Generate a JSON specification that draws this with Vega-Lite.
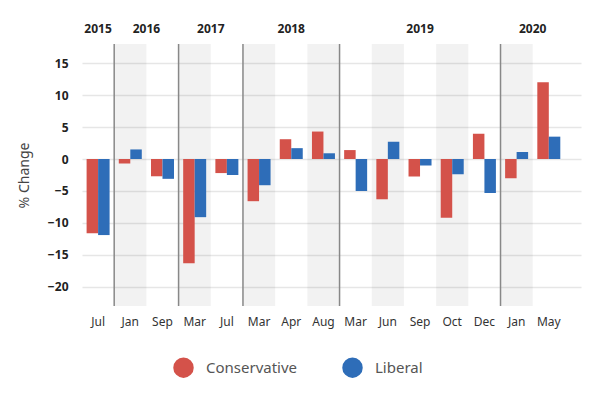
{
  "$schema": "https://vega.github.io/schema/vega-lite/v6.json",
  "width": 499,
  "height": 262,
  "autosize": "none",
  "padding": {"left": 82, "top": 44, "right": 10, "bottom": 94},
  "config": {
    "view": {"stroke": null},
    "font": "Noto Sans",
    "background": "#ffffff",
    "axisY": {
      "tickCount": 9,
      "labelFontSize": 12,
      "labelFontWeight": "bold",
      "labelColor": "#222222",
      "labelPadding": 14,
      "ticks": false,
      "domain": false,
      "grid": true,
      "gridColor": "#e6e6e6",
      "gridWidth": 1.5
    }
  },
  "datasets": {
    "changes": [
      {"month": "Jul 2015", "party": "Conservative", "change": -11.6},
      {"month": "Jul 2015", "party": "Liberal", "change": -11.9},
      {"month": "Jan 2016", "party": "Conservative", "change": -0.7},
      {"month": "Jan 2016", "party": "Liberal", "change": 1.5},
      {"month": "Sep 2016", "party": "Conservative", "change": -2.7},
      {"month": "Sep 2016", "party": "Liberal", "change": -3.1},
      {"month": "Mar 2017", "party": "Conservative", "change": -16.3},
      {"month": "Mar 2017", "party": "Liberal", "change": -9.1},
      {"month": "Jul 2017", "party": "Conservative", "change": -2.2},
      {"month": "Jul 2017", "party": "Liberal", "change": -2.5},
      {"month": "Mar 2018", "party": "Conservative", "change": -6.6},
      {"month": "Mar 2018", "party": "Liberal", "change": -4.1},
      {"month": "Apr 2018", "party": "Conservative", "change": 3.1},
      {"month": "Apr 2018", "party": "Liberal", "change": 1.7},
      {"month": "Aug 2018", "party": "Conservative", "change": 4.3},
      {"month": "Aug 2018", "party": "Liberal", "change": 0.9},
      {"month": "Mar 2019", "party": "Conservative", "change": 1.4},
      {"month": "Mar 2019", "party": "Liberal", "change": -5.0},
      {"month": "Jun 2019", "party": "Conservative", "change": -6.3},
      {"month": "Jun 2019", "party": "Liberal", "change": 2.7},
      {"month": "Sep 2019", "party": "Conservative", "change": -2.75},
      {"month": "Sep 2019", "party": "Liberal", "change": -1.0},
      {"month": "Oct 2019", "party": "Conservative", "change": -9.2},
      {"month": "Oct 2019", "party": "Liberal", "change": -2.4},
      {"month": "Dec 2019", "party": "Conservative", "change": 3.95},
      {"month": "Dec 2019", "party": "Liberal", "change": -5.3},
      {"month": "Jan 2020", "party": "Conservative", "change": -3.0},
      {"month": "Jan 2020", "party": "Liberal", "change": 1.1},
      {"month": "May 2020", "party": "Conservative", "change": 12.0},
      {"month": "May 2020", "party": "Liberal", "change": 3.5}
    ],
    "shaded": [
      {"month": "Jan 2016"},
      {"month": "Mar 2017"},
      {"month": "Mar 2018"},
      {"month": "Aug 2018"},
      {"month": "Jun 2019"},
      {"month": "Oct 2019"},
      {"month": "Jan 2020"}
    ],
    "yearStarts": [
      {"month": "Jan 2016"},
      {"month": "Mar 2017"},
      {"month": "Mar 2018"},
      {"month": "Mar 2019"},
      {"month": "Jan 2020"}
    ],
    "years": [
      {"year": "2015", "month": "Jul 2015", "anchor": "center"},
      {"year": "2016", "month": "Sep 2016", "anchor": "edge"},
      {"year": "2017", "month": "Jul 2017", "anchor": "edge"},
      {"year": "2018", "month": "Apr 2018", "anchor": "center"},
      {"year": "2019", "month": "Sep 2019", "anchor": "center"},
      {"year": "2020", "month": "May 2020", "anchor": "edge"}
    ]
  },
  "layer": [
    {
      "data": {"name": "shaded"},
      "mark": {"type": "rect", "color": "#000000", "opacity": 0.05},
      "encoding": {
        "x": {
          "field": "month",
          "type": "nominal",
          "title": null,
          "scale": {
            "domain": ["Jul 2015", "Jan 2016", "Sep 2016", "Mar 2017", "Jul 2017", "Mar 2018", "Apr 2018", "Aug 2018", "Mar 2019", "Jun 2019", "Sep 2019", "Oct 2019", "Dec 2019", "Jan 2020", "May 2020"],
            "paddingInner": 0,
            "paddingOuter": 0.25,
            "align": 0
          },
          "axis": {
            "labelExpr": "split(datum.label, ' ')[0]",
            "labelAngle": 0,
            "labelFontSize": 12,
            "labelColor": "#333333",
            "labelPadding": 10,
            "ticks": false,
            "domain": false,
            "grid": false
          }
        }
      }
    },
    {
      "data": {"name": "yearStarts"},
      "mark": {"type": "rule", "color": "#888888", "strokeWidth": 1.5},
      "encoding": {
        "x": {"field": "month", "type": "nominal", "title": null, "bandPosition": 0}
      }
    },
    {
      "data": {"name": "changes"},
      "mark": {"type": "bar"},
      "encoding": {
        "x": {"field": "month", "type": "nominal", "title": null},
        "xOffset": {
          "field": "party",
          "type": "nominal",
          "scale": {"domain": ["Conservative", "Liberal"], "paddingInner": 0, "paddingOuter": 0.4}
        },
        "y": {
          "field": "change",
          "type": "quantitative",
          "scale": {"domain": [-23, 18], "nice": false, "zero": false},
          "axis": {
            "title": "% Change",
            "titleFontSize": 14,
            "titleFontWeight": "normal",
            "titleColor": "#444444",
            "titlePadding": 16,
            "values": [-20, -15, -10, -5, 0, 5, 10, 15]
          }
        },
        "color": {
          "field": "party",
          "type": "nominal",
          "scale": {"domain": ["Conservative", "Liberal"], "range": ["#d4524a", "#2e6db8"]},
          "legend": {
            "title": null,
            "orient": "none",
            "direction": "horizontal",
            "legendX": 91,
            "legendY": 313,
            "symbolType": "circle",
            "symbolSize": 420,
            "symbolStrokeWidth": 0,
            "symbolOpacity": 1,
            "labelFontSize": 15,
            "labelColor": "#555555",
            "labelOffset": 12,
            "columnPadding": 44
          }
        }
      }
    },
    {
      "mark": {"type": "rule", "color": "#888888", "strokeWidth": 1.5},
      "encoding": {
        "y": {"datum": 0, "type": "quantitative"}
      }
    },
    {
      "data": {"name": "years"},
      "transform": [{"filter": "datum.anchor === 'center'"}],
      "mark": {"type": "text", "fontWeight": "bold", "fontSize": 12, "color": "#222222", "baseline": "middle", "dy": -15},
      "encoding": {
        "x": {"field": "month", "type": "nominal", "title": null, "bandPosition": 0.5},
        "y": {"datum": 18, "type": "quantitative"},
        "text": {"field": "year", "type": "nominal"}
      }
    },
    {
      "data": {"name": "years"},
      "transform": [{"filter": "datum.anchor === 'edge'"}],
      "mark": {"type": "text", "fontWeight": "bold", "fontSize": 12, "color": "#222222", "baseline": "middle", "dy": -15},
      "encoding": {
        "x": {"field": "month", "type": "nominal", "title": null, "bandPosition": 0},
        "y": {"datum": 18, "type": "quantitative"},
        "text": {"field": "year", "type": "nominal"}
      }
    }
  ]
}
